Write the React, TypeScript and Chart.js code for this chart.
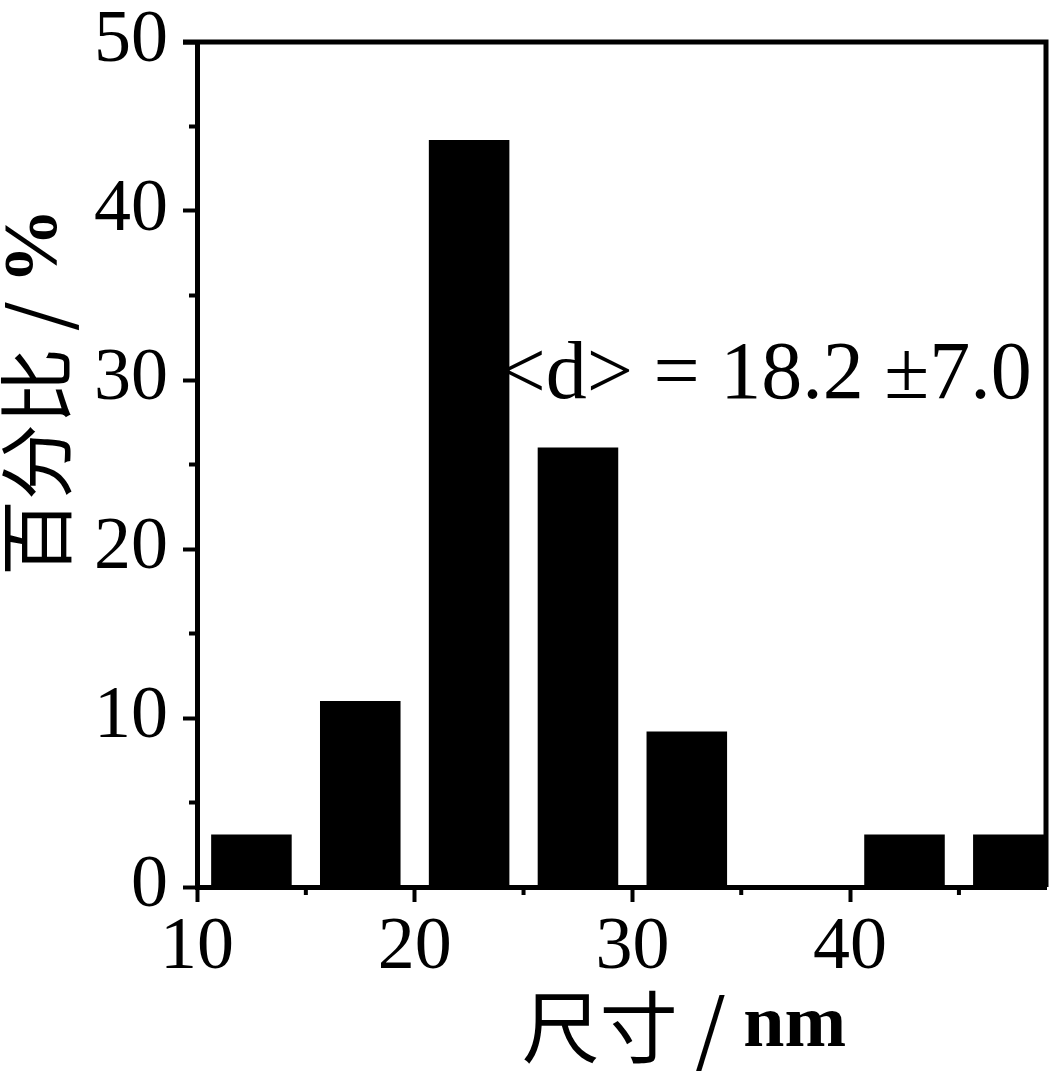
import React, { useEffect, useRef } from "react";
import { Chart, registerables } from "chart.js";

Chart.register(...registerables);

const BIN_CENTERS = [12.5, 17.5, 22.5, 27.5, 32.5, 37.5, 42.5, 47.5];
const PERCENTS = [3.1, 11.0, 44.2, 26.0, 9.2, 0, 3.1, 3.1];
const X_TICKS = [10, 20, 30, 40];
const X_MINOR = [15, 25, 35, 45];
const Y_TICKS = [0, 10, 20, 30, 40, 50];
const Y_MINOR = [5, 15, 25, 35, 45];
const X_TITLE_CJK = "尺寸 / ";
const X_TITLE_UNIT = "nm";
const Y_TITLE_CJK = "百分比 / ";
const Y_TITLE_UNIT = "%";
const ANNOTATION = "<d> = 18.2 ±7.0";

const SERIF = '"Liberation Serif", "Times New Roman", serif';
const CJK = '"Noto Sans CJK SC", sans-serif';

function drawParts(ctx: CanvasRenderingContext2D, parts: { t: string; f: string }[], cx: number, cy: number) {
  let total = 0;
  const widths = parts.map((p) => {
    ctx.font = p.f;
    const w = ctx.measureText(p.t).width;
    total += w;
    return w;
  });
  let x = cx - total / 2;
  ctx.textBaseline = "middle";
  ctx.textAlign = "left";
  parts.forEach((p, i) => {
    ctx.font = p.f;
    ctx.fillText(p.t, x, cy);
    x += widths[i];
  });
}

const decorPlugin = {
  id: "decor",
  afterDatasetsDraw(chart: any) {
    const ctx = chart.ctx as CanvasRenderingContext2D;
    const { chartArea } = chart;
    const xs = chart.scales.x;
    const ys = chart.scales.y;
    ctx.save();
    ctx.fillStyle = "#000";
    ctx.strokeStyle = "#000";
    // annotation
    ctx.font = `82px ${SERIF}`;
    ctx.textAlign = "left";
    ctx.textBaseline = "middle";
    ctx.fillText(ANNOTATION, xs.getPixelForValue(23.9), ys.getPixelForValue(30.2));
    // frame top/right
    ctx.lineWidth = 5;
    ctx.beginPath();
    ctx.moveTo(chartArea.left - 14, chartArea.top);
    ctx.lineTo(chartArea.right, chartArea.top);
    ctx.lineTo(chartArea.right, chartArea.bottom);
    ctx.stroke();
    // minor ticks
    ctx.lineWidth = 4;
    ctx.beginPath();
    X_MINOR.forEach((v) => {
      const px = xs.getPixelForValue(v);
      ctx.moveTo(px, chartArea.bottom);
      ctx.lineTo(px, chartArea.bottom + 8);
    });
    Y_MINOR.forEach((v) => {
      const py = ys.getPixelForValue(v);
      ctx.moveTo(chartArea.left, py);
      ctx.lineTo(chartArea.left - 8, py);
    });
    ctx.stroke();
    // axis titles
    drawParts(
      ctx,
      [
        { t: X_TITLE_CJK, f: `78px ${CJK}` },
        { t: X_TITLE_UNIT, f: `bold 74px ${SERIF}` },
      ],
      684,
      1027
    );
    ctx.translate(36, 392);
    ctx.rotate(-Math.PI / 2);
    drawParts(
      ctx,
      [
        { t: Y_TITLE_CJK, f: `76px ${CJK}` },
        { t: Y_TITLE_UNIT, f: `bold 76px ${SERIF}` },
      ],
      0,
      0
    );
    ctx.restore();
  },
};

export default function App() {
  const ref = useRef<HTMLCanvasElement>(null);
  useEffect(() => {
    if (!ref.current) return;
    const chart = new Chart(ref.current, {
      type: "bar",
      data: {
        datasets: [
          {
            data: BIN_CENTERS.map((x, i) => ({ x, y: PERCENTS[i] })),
            backgroundColor: "#000",
            borderWidth: 0,
            categoryPercentage: 1,
            barPercentage: 0.74,
          },
        ],
      },
      options: {
        animation: false,
        responsive: false,
        devicePixelRatio: 1,
        layout: { padding: { top: 42, right: 5, left: 0, bottom: 0 } },
        plugins: { legend: { display: false }, tooltip: { enabled: false } },
        scales: {
          x: {
            type: "linear",
            min: 10,
            max: 49,
            offset: false,
            afterFit: (s: any) => {
              s.height = 184;
              s.paddingLeft = 0;
              s.paddingRight = 0;
            },
            afterBuildTicks: (s: any) => {
              s.ticks = X_TICKS.map((v) => ({ value: v }));
            },
            grid: {
              drawOnChartArea: false,
              drawTicks: true,
              tickLength: 15,
              tickWidth: 4,
              color: "#000",
              offset: false,
            },
            border: { display: true, color: "#000", width: 5 },
            ticks: {
              color: "#000",
              font: { family: SERIF, size: 74 },
              padding: 2,
              maxRotation: 0,
              autoSkip: false,
            },
          },
          y: {
            min: 0,
            max: 50,
            afterFit: (s: any) => {
              s.width = 197;
              s.paddingTop = 0;
              s.paddingBottom = 0;
            },
            afterBuildTicks: (s: any) => {
              s.ticks = Y_TICKS.map((v) => ({ value: v }));
            },
            grid: {
              drawOnChartArea: false,
              drawTicks: true,
              tickLength: 14,
              tickWidth: 4,
              color: "#000",
            },
            border: { display: true, color: "#000", width: 5 },
            ticks: {
              color: "#000",
              font: { family: SERIF, size: 74 },
              padding: 15,
              autoSkip: false,
            },
          },
        },
      },
      plugins: [decorPlugin],
    });
    return () => chart.destroy();
  }, []);
  return (
    <div style={{ position: "absolute", left: 0, top: 0, width: 1051, height: 1071, background: "#fff" }}>
      <canvas ref={ref} width={1051} height={1071} />
    </div>
  );
}
